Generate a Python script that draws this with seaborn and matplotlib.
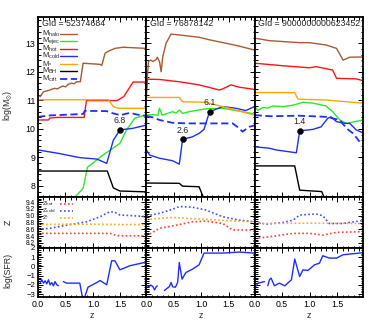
import numpy as np
import matplotlib
matplotlib.use('Agg')
import matplotlib.pyplot as plt
import seaborn as sns
from matplotlib.lines import Line2D
from matplotlib.ticker import MultipleLocator

# ---------------- data ----------------
gids = ['52374684', '76878142', '9000000000623452']

# panel 1
halo1_z = [0.0, 0.04, 0.1, 0.2, 0.3, 0.35, 0.45, 0.5, 0.55, 0.61, 0.66, 0.7, 0.77, 0.82, 1.13, 1.16, 1.22, 1.28, 1.4, 1.55, 1.97]
halo1_m = [11.19, 11.13, 11.3, 11.35, 11.42, 11.4, 11.5, 11.47, 11.56, 11.6, 11.58, 11.65, 11.65, 12.3, 12.26, 12.22, 12.65, 12.72, 12.82, 12.86, 12.82]
ejec1_z = [0.62, 0.82, 0.9, 1.16, 1.49, 1.61, 1.76, 1.97]
ejec1_m = [7.5, 7.91, 8.65, 9.05, 9.49, 9.96, 10.37, 10.5]
hot1_z = [0.0, 0.19, 0.22, 0.36, 0.84, 0.88, 1.44, 1.56, 1.73, 1.97]
hot1_m = [10.31, 10.31, 10.38, 10.4, 10.4, 10.99, 10.99, 11.13, 11.64, 11.64]
cold1_z = [0.0, 0.37, 0.76, 1.07, 1.25, 1.37, 1.49, 1.73, 1.97]
cold1_m = [9.26, 9.14, 8.99, 8.94, 8.79, 9.6, 9.96, 10.02, 10.13]
star1_z = [0.0, 1.28, 1.37, 1.46, 1.97]
star1_m = [11.02, 11.02, 10.78, 10.72, 10.72]
bh1_z = [0.0, 1.26, 1.37, 1.49, 1.97]
bh1_m = [8.52, 8.52, 7.93, 7.82, 7.79]
crit1_z = [0.0, 0.22, 0.82, 0.85, 1.25, 1.35, 1.5, 1.67, 1.8, 1.97]
crit1_m = [10.42, 10.47, 10.52, 10.63, 10.62, 10.55, 10.48, 10.56, 10.5, 10.45]

# panel 2
halo2_z = [0.0, 0.04, 0.08, 0.12, 0.18, 0.2, 0.24, 0.27, 0.3, 0.36, 0.45, 0.6, 0.96, 1.15, 1.45, 1.69, 1.97]
halo2_m = [11.3, 12.36, 12.41, 12.36, 12.43, 12.51, 12.36, 12.0, 12.53, 13.0, 13.32, 13.29, 13.21, 13.12, 13.0, 12.9, 12.76]
ejec2_z = [0.0, 0.01, 0.12, 0.21, 0.24, 0.29, 0.48, 0.54, 0.6, 0.66, 0.78, 1.08, 1.39, 1.69, 1.97]
ejec2_m = [9.84, 10.48, 10.5, 10.47, 10.72, 10.48, 10.6, 10.55, 10.66, 10.54, 10.6, 10.7, 10.72, 10.62, 10.52]
hot2_z = [0.0, 0.02, 0.24, 0.6, 0.96, 1.33, 1.39, 1.54, 1.69, 1.97]
hot2_m = [11.1, 11.74, 11.73, 11.65, 11.54, 11.36, 11.4, 11.54, 11.46, 11.38]
cold2_z = [0.0, 0.06, 0.24, 0.48, 0.6, 0.66, 0.84, 0.96, 1.05, 1.15, 1.39, 1.63, 1.81, 1.97]
cold2_m = [9.26, 9.08, 8.97, 8.88, 8.76, 9.63, 9.72, 9.84, 9.98, 10.6, 10.78, 10.72, 10.64, 10.78]
star2_z = [0.0, 0.6, 0.66, 1.08, 1.51, 1.97]
star2_m = [11.1, 11.1, 10.95, 10.93, 10.72, 10.48]
bh2_z = [0.0, 0.6, 0.66, 0.96, 1.1]
bh2_m = [8.1, 8.09, 7.99, 7.97, 7.3]
crit2_z = [0.0, 0.12, 0.24, 0.48, 0.78, 1.57, 1.69, 1.75, 1.87, 1.97]
crit2_m = [10.45, 10.4, 10.31, 10.21, 10.19, 10.19, 10.02, 9.9, 10.07, 10.12]

# panel 3
halo3_z = [0.0, 0.27, 0.82, 1.0, 1.3, 1.49, 1.61, 1.73, 1.97]
halo3_m = [13.18, 13.09, 13.02, 13.02, 12.94, 12.82, 12.41, 12.51, 12.52]
ejec3_z = [0.0, 0.06, 0.15, 0.24, 0.33, 0.52, 0.7, 0.88, 1.06, 1.3, 1.42, 1.55, 1.67, 1.97]
ejec3_m = [10.78, 10.64, 10.75, 10.73, 10.8, 10.78, 10.83, 10.93, 10.9, 10.8, 10.6, 10.31, 10.19, 10.31]
hot3_z = [0.0, 0.52, 1.0, 1.12, 1.42, 1.49, 1.85, 1.97]
hot3_m = [12.3, 12.21, 12.14, 12.18, 12.06, 11.77, 11.75, 11.69]
cold3_z = [0.0, 0.27, 0.39, 0.76, 0.82, 1.06, 1.21, 1.33, 1.39, 1.49, 1.64, 1.73, 1.85, 1.97]
cold3_m = [9.37, 9.32, 9.26, 9.16, 9.93, 9.98, 10.07, 10.37, 10.42, 10.25, 10.19, 10.19, 9.96, 9.86]
star3_z = [0.0, 0.73, 0.79, 1.3, 1.97]
star3_m = [11.27, 11.27, 11.04, 11.01, 10.9]
bh3_z = [0.0, 0.73, 0.82, 1.22, 1.31]
bh3_m = [8.7, 8.7, 7.85, 7.8, 7.4]
crit3_z = [0.0, 0.3, 0.8, 1.3, 1.55, 1.67, 1.79, 1.91]
crit3_m = [10.48, 10.44, 10.46, 10.42, 10.31, 10.02, 9.84, 9.55]

# labelled points on M_cold
dot1_z, dot1_m, dot1_lab = [1.49], [9.96], ['6.8']
dot2_z, dot2_m, dot2_lab = [0.66, 1.15], [9.63, 10.6], ['2.6', '6.1']
dot3_z, dot3_m, dot3_lab = [0.82], [9.93], ['1.4']

# metallicities
zhot1_z, zhot1 = [0.0, 1.31, 1.44, 1.97], [8.48, 8.48, 8.41, 8.41]
zcold1_z = [0.0, 0.22, 0.52, 0.88, 1.13, 1.31, 1.4, 1.49, 1.73, 1.97]
zcold1 = [8.6, 8.63, 8.72, 8.82, 8.97, 9.12, 9.1, 9.02, 9.0, 8.97]
zstar1_z, zstar1 = [0.0, 0.5, 1.0, 1.5, 1.97], [8.74, 8.75, 8.75, 8.74, 8.74]

zhot2_z = [0.0, 0.24, 0.48, 0.84, 1.08, 1.39, 1.57, 1.97]
zhot2 = [8.4, 8.63, 8.7, 8.82, 8.84, 8.77, 8.58, 8.58]
zcold2_z = [0.0, 0.24, 0.48, 0.6, 0.84, 1.08, 1.39, 1.69, 1.97]
zcold2 = [8.99, 9.07, 9.19, 9.27, 9.25, 9.17, 8.97, 8.87, 8.82]
zstar2_z, zstar2 = [0.0, 0.48, 1.08, 1.69, 1.97], [8.89, 8.95, 8.89, 8.84, 8.82]

zhot3_z = [0.0, 0.27, 0.7, 1.0, 1.24, 1.49, 1.97]
zhot3 = [8.33, 8.38, 8.48, 8.48, 8.43, 8.51, 8.53]
zcold3_z = [0.0, 0.21, 0.52, 0.7, 0.82, 1.12, 1.24, 1.36, 1.6, 1.97]
zcold3 = [8.82, 8.75, 8.8, 8.87, 9.02, 9.05, 9.0, 8.77, 8.77, 8.86]
zstar3_z, zstar3 = [0.0, 1.0, 1.97], [8.77, 8.78, 8.77]

# star formation rate (nan = gap in the curve)
sfr1_z = [0.04, 0.07, 0.1, 0.13, 0.16, 0.19, 0.22, 0.25, 0.28, 0.31, 0.34, 0.37, np.nan,
          0.46, 0.52, 0.76, 0.81, 0.85, 0.91, 1.07, 1.13, 1.25, 1.34, 1.4, 1.49, 1.67, 1.97]
sfr1 = [-1.74, -1.44, -1.8, -1.55, -1.88, -1.44, -1.98, -1.74, -2.09, -1.63, -1.98, -2.06, np.nan,
        -1.63, -1.8, -1.8, -3.4, -3.3, -2.24, -1.73, -1.52, -1.98, 0.62, 0.62, -0.36, 0.08, 0.48]
sfr2_z = [0.02, 0.05, 0.08, 0.12, 0.15, 0.18, 0.2, np.nan,
          0.33, 0.37, 0.42, 0.45, 0.48, 0.53, 0.57, 0.6, 0.65, 0.72, 0.84, 0.96, 1.05, 1.39, 1.69, 1.97]
sfr2 = [-2.09, -2.2, -2.0, -2.17, -2.53, -2.2, -2.09, np.nan,
        -2.6, -2.4, -2.17, -1.73, -2.2, -2.24, -1.73, 0.43, -1.37, -0.65, -0.29, 0.18, 1.45, 1.45, 1.56, 1.45]
sfr3_z = [0.0, 0.03, 0.06, 0.12, 0.18, np.nan,
          0.24, 0.27, 0.3, 0.36, 0.45, 0.55, 0.67, 0.73, 0.82, 0.88, 0.97, 1.09, 1.18, 1.24, 1.36, 1.49, 1.61, 1.91, 1.97]
sfr3 = [-2.17, -2.1, -1.8, -1.72, -1.63, np.nan,
        -2.09, -1.44, -1.26, -2.09, -1.8, -2.09, -1.44, 0.8, -1.08, -0.36, -0.43, 0.18, 0.36, 1.16, 0.91, 0.91, 1.27, 1.45, 1.5]

# ---------------- style ----------------
sns.set_style('ticks')
plt.rcParams['font.family'] = ['Liberation Sans', 'DejaVu Sans']
plt.rcParams['mathtext.fontset'] = 'custom'
plt.rcParams['mathtext.rm'] = 'Liberation Sans'
plt.rcParams['mathtext.default'] = 'regular'
plt.rcParams['font.size'] = 6

c_halo = '#A85A32'
c_ejec = '#2BE82B'
c_hot = '#FF1414'
c_cold = '#1E2EFF'
c_star = '#FFA50A'
c_bh = 'black'
dashed = (0, (4, 2))
dotted = (0, (1, 1.4))

fig = plt.figure(figsize=(3.82, 3.30), dpi=100)
W, H = 382.0, 330.0
x0, pw = 38.0, 108.3


def style_axes(ax, ymaj, ymin, lsize=6.3):
    ax.xaxis.set_major_locator(MultipleLocator(0.5))
    ax.xaxis.set_minor_locator(MultipleLocator(0.1))
    ax.yaxis.set_major_locator(MultipleLocator(ymaj))
    ax.yaxis.set_minor_locator(MultipleLocator(ymin))
    ax.tick_params(which='both', direction='in', top=True, right=True, width=0.7,
                   labelsize=lsize, pad=2, colors='black')
    ax.tick_params(which='major', length=3.5)
    ax.tick_params(which='minor', length=1.8)
    for s in ax.spines.values():
        s.set_linewidth(1.3)
        s.set_color('black')
    ax.set_xlim(0, 1.97)
    ax.set_xlabel('')
    ax.set_ylabel('')


def draw(ax, x, y, color, ls='-', lw=1.0):
    x = np.asarray(x, dtype=float)
    y = np.asarray(y, dtype=float)
    # split at nan gaps
    breaks = np.where(np.isnan(x))[0]
    starts = np.concatenate([[0], breaks + 1])
    ends = np.concatenate([breaks, [len(x)]])
    for a, b in zip(starts, ends):
        sns.lineplot(x=x[a:b], y=y[a:b], ax=ax, color=color, linestyle=ls,
                     linewidth=lw, sort=False, estimator=None, legend=False)


def key_list(ax, labels, styles, y_top, step, tx, lx0, lx1, fs, lw_fn):
    # legend drawn as text + short sample line, label first
    for k, (lab, (col, ls)) in enumerate(zip(labels, styles)):
        y = y_top - k * step
        ax.text(tx, y, lab, transform=ax.transAxes, ha='left', va='center', fontsize=fs)
        ax.add_line(Line2D([lx0, lx1], [y, y], transform=ax.transAxes, color=col,
                           linestyle=ls, linewidth=lw_fn(ls)))


mass_panels = [
    [(halo1_z, halo1_m), (ejec1_z, ejec1_m), (hot1_z, hot1_m), (cold1_z, cold1_m),
     (star1_z, star1_m), (bh1_z, bh1_m), (crit1_z, crit1_m)],
    [(halo2_z, halo2_m), (ejec2_z, ejec2_m), (hot2_z, hot2_m), (cold2_z, cold2_m),
     (star2_z, star2_m), (bh2_z, bh2_m), (crit2_z, crit2_m)],
    [(halo3_z, halo3_m), (ejec3_z, ejec3_m), (hot3_z, hot3_m), (cold3_z, cold3_m),
     (star3_z, star3_m), (bh3_z, bh3_m), (crit3_z, crit3_m)],
]
mass_style = [(c_halo, '-'), (c_ejec, '-'), (c_hot, '-'), (c_cold, '-'),
              (c_star, '-'), (c_bh, '-'), (c_cold, dashed)]
mass_labels = ['M$_{halo}$', 'M$_{ejec}$', 'M$_{hot}$', 'M$_{cold}$',
               'M$_{*}$', 'M$_{BH}$', 'M$_{crit}$']
dots = [(dot1_z, dot1_m, dot1_lab), (dot2_z, dot2_m, dot2_lab), (dot3_z, dot3_m, dot3_lab)]
metal_panels = [
    [(zhot1_z, zhot1), (zcold1_z, zcold1), (zstar1_z, zstar1)],
    [(zhot2_z, zhot2), (zcold2_z, zcold2), (zstar2_z, zstar2)],
    [(zhot3_z, zhot3), (zcold3_z, zcold3), (zstar3_z, zstar3)],
]
metal_colors = ['#FF4040', '#4050FF', '#FFA820']
metal_labels = ['Z$_{hot}$', 'Z$_{cold}$', 'Z$_{*}$']
sfr_panels = [(sfr1_z, sfr1), (sfr2_z, sfr2), (sfr3_z, sfr3)]

for i in range(3):
    left = (x0 + i * pw) / W
    width = pw / W
    ax_m = fig.add_axes([left, 1 - 197 / H, width, 180 / H])
    ax_z = fig.add_axes([left, 1 - 248 / H, width, 51 / H])
    ax_s = fig.add_axes([left, 1 - 297 / H, width, 49 / H])

    # masses
    for (zz, mm), (col, ls) in zip(mass_panels[i], mass_style):
        draw(ax_m, zz, mm, col, ls, lw=1.3 if ls == dashed else 1.0)
    dz, dm, dl = dots[i]
    sns.scatterplot(x=dz, y=dm, ax=ax_m, color='black', s=18, edgecolor='black',
                    zorder=5, legend=False)
    for a, b, t in zip(dz, dm, dl):
        ax_m.annotate(t, (a, b), xytext=(0, 3.5), textcoords='offset points',
                      ha='center', va='bottom', fontsize=6.3)
    ax_m.text(0.035, 0.99, 'GId = ' + gids[i], transform=ax_m.transAxes,
              ha='left', va='top', fontsize=6.3)
    style_axes(ax_m, 1, 0.2)
    ax_m.set_ylim(7.61, 13.92)
    ax_m.tick_params(labelbottom=False)

    # metallicities
    for (zz, mm), col in zip(metal_panels[i], metal_colors):
        draw(ax_z, zz, mm, col, dotted, lw=1.2)
    style_axes(ax_z, 0.2, 0.05, lsize=4.8)
    ax_z.set_ylim(8.05, 9.55)
    ax_z.tick_params(labelbottom=False)

    # sfr
    draw(ax_s, sfr_panels[i][0], sfr_panels[i][1], c_cold, '-', lw=1.0)
    style_axes(ax_s, 1, 0.2, lsize=5.6)
    ax_s.set_ylim(-3.3, 2.0)
    ax_s.set_xticks([0.0, 0.5, 1.0, 1.5])
    ax_s.set_xticklabels(['0.0', '0.5', '1.0', '1.5'])
    ax_s.tick_params(axis='x', labelsize=6.3)
    ax_s.set_xlabel('z', fontsize=6.3, labelpad=1.5)

    if i == 0:
        ax_m.set_yticks([8, 9, 10, 11, 12, 13])
        ax_z.set_yticks([8.2, 8.4, 8.6, 8.8, 9.0, 9.2, 9.4])
        ax_z.set_yticklabels(['8.2', '8.4', '8.6', '8.8', '9.0', '9.2', '9.4'])
        ax_s.set_yticks([-3, -2, -1, 0, 1, 2])
        key_list(ax_m, mass_labels, mass_style, 1 - 16.5 / 180, 7.5 / 180,
                 0.035, 0.20, 0.36, 5.5, lambda ls: 1.3 if ls == dashed else 1.0)
        key_list(ax_z, metal_labels, [(c, dotted) for c in metal_colors],
                 1 - 6.5 / 51, 7.0 / 51, 0.04, 0.20, 0.32, 4.6, lambda ls: 1.2)
    else:
        ax_m.tick_params(labelleft=False)
        ax_z.tick_params(labelleft=False)
        ax_s.tick_params(labelleft=False)

fig.text(8 / W, 1 - 105 / H, 'log(M$_{\\odot}$)', rotation=90, ha='center', va='center', fontsize=6.3)
fig.text(8 / W, 1 - 222 / H, 'Z', rotation=90, ha='center', va='center', fontsize=6.3)
fig.text(8 / W, 1 - 270 / H, 'log(SFR)', rotation=90, ha='center', va='center', fontsize=6.3)

fig.savefig('out.png', dpi=100)
